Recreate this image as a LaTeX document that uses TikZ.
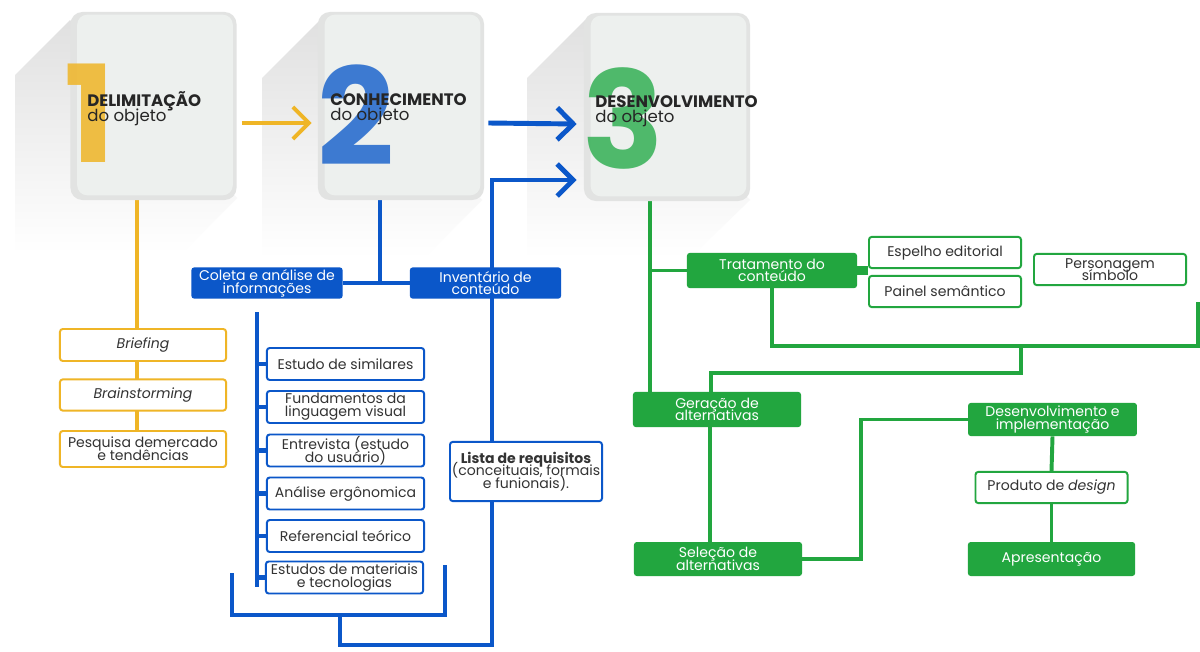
\documentclass[tikz,border=0pt]{standalone}
\usepackage{fontspec}
\setmainfont{Poppins}
\usetikzlibrary{arrows.meta,backgrounds}

\definecolor{amarelo}{HTML}{EFB526}
\definecolor{azul}{HTML}{0B57C9}
\definecolor{azuldig}{HTML}{1F66CC}
\definecolor{verde}{HTML}{22A63F}
\definecolor{verdedig}{HTML}{34B055}
\definecolor{cardedge}{HTML}{E2E3E2}
\definecolor{cardface}{HTML}{EDF0EE}
\newcommand\apertado{\lineskiplimit=-20pt\relax} % linhas juntas

\begin{document}
\begin{tikzpicture}[
        x=0.025cm, y=-0.025cm, % 1 unidade = 1 px
        font=\fontsize{10}{9}\selectfont\apertado,
        card/.style={fill=cardedge, rounded corners=0.3cm, minimum width=4.15cm, minimum height=4.7cm}, % Cartões das etapas
        face/.style={fill=cardface, rounded corners=0.25cm},
        digit/.style={anchor=base west, inner sep=0, font=\fontsize{96}{96}\selectfont\bfseries, opacity=0.85},
        head/.style={anchor=base west, inner sep=0, align=left, font=\fontsize{11.8}{10}\selectfont\apertado, text=black!85},
        ybox/.style={draw=amarelo, line width=1.4pt, fill=white, rounded corners=2pt, minimum width=4.15cm, align=center, text=black!80, inner sep=1pt},
        bbox/.style={draw=azul, line width=1.4pt, fill=white, rounded corners=2pt, minimum width=3.93cm, minimum height=0.8cm, align=center, text=black!80, inner sep=1pt},
        bfill/.style={fill=azul, text=white, rounded corners=2pt, minimum width=3.78cm, minimum height=0.78cm, align=center, inner sep=1pt},
        gbox/.style={draw=verde, line width=1.4pt, fill=white, rounded corners=2pt, minimum width=3.8cm, minimum height=0.78cm, align=center, text=black!80, inner sep=1pt},
        gfill/.style={fill=verde, text=white, rounded corners=2pt, align=center, inner sep=1pt},
        yline/.style={draw=amarelo, line width=2.8pt},
        bline/.style={draw=azul, line width=3.5pt},
        gline/.style={draw=verde, line width=2.8pt},
        seta/.style={-{Straight Barb[length=0.4cm, width=0.8cm]}}, % Setas abertas
        sombra/.style={shading angle=45, top color=black!12, bottom color=white},
    ]

    \begin{scope}[on background layer]
        \path[use as bounding box, fill=white] (0,0) rectangle (1200,651);
        % sombras longas
        \shade[sombra] (70,20) -- (15,75) -- (15,253) -- (182,253) -- (237,198) -- cycle;
        \shade[sombra] (320,20) -- (262,78) -- (262,258) -- (424,258) -- (482,200) -- cycle;
        \shade[sombra] (585,20) -- (527,78) -- (527,258) -- (690,258) -- (750,200) -- cycle;
    \end{scope}

    % etapas
    \node[card] (card1) at (153.5,106) {};
    \node[card] (card2) at (401,106) {};
    \node[card] (card3) at (667,107) {};
    \foreach \c in {card1,card2,card3}
        \fill[face] ([shift={(7,-5)}]\c.south west) rectangle ([shift={(-4,3)}]\c.north east);

    \node[digit, text=amarelo] (n1) at (64,162) {1};
    \node[digit, text=azuldig] (n2) at (317,165) {2};
    \node[digit, text=verdedig] (n3) at (582,168) {3};

    \node[head] (t1) at (87,121) {\textbf{DELIMITAÇÃO}\\do objeto};
    \node[head] (t2) at (330,120) {\textbf{CONHECIMENTO}\\do objeto};
    \node[head] (t3) at (595,122) {\textbf{DESENVOLVIMENTO}\\do objeto};

    % delimitação
    \node[ybox, minimum height=0.8cm] (brief) at (143,345) {\textit{Briefing}};
    \node[ybox, minimum height=0.78cm] (brain) at (143,395) {\textit{Brainstorming}};
    \node[ybox, minimum height=0.9cm] (pesq) at (143,449) {Pesquisa demercado\\e tendências};

    % conhecimento
    \node[bfill] (coleta) at (267,283) {Coleta e análise de\\informações};
    \node[bfill] (inv) at (485.5,283) {Inventário de\\conteúdo};
    \node[bbox] (sim) at (345.5,364) {Estudo de similares};
    \node[bbox] (fund) at (345.5,407) {Fundamentos da\\linguagem visual};
    \node[bbox] (entr) at (345.5,450.5) {Entrevista (estudo\\do usuário)};
    \node[bbox] (anal) at (345.5,493.5) {Análise ergônomica};
    \node[bbox] (ref) at (345.5,536) {Referencial teórico};
    \node[bbox] (mat) at (344.5,577.5) {Estudos de materiais\\e tecnologias};
    \node[bbox, minimum width=3.8cm, minimum height=1.48cm] (lista) at (526,471.5) {\textbf{Lista de requisitos}\\(conceituais, formais\\e funionais).};

    % desenvolvimento
    \node[gfill, minimum width=4.25cm, minimum height=0.88cm] (trat) at (772,270.5) {Tratamento do\\conteúdo};
    \node[gbox] (esp) at (945,252.5) {Espelho editorial};
    \node[gbox] (pain) at (945,291.5) {Painel semântico};
    \node[gbox] (pers) at (1110,269.5) {Personagem\\símbolo};
    \node[gfill, minimum width=4.2cm, minimum height=0.88cm] (ger) at (717,409.5) {Geração de\\alternativas};
    \node[gfill, minimum width=4.2cm, minimum height=0.85cm] (sel) at (718,559) {Seleção de\\alternativas};
    \node[gfill, minimum width=4.22cm, minimum height=0.83cm] (des) at (1052.5,419.5) {Desenvolvimento e\\implementação};
    \node[gbox] (prod) at (1051.5,487.5) {Produto de \textit{design}};
    \node[gfill, minimum width=4.18cm, minimum height=0.85cm] (apr) at (1051.5,559) {Apresentação};

    \coordinate (yl) at (137,0);
    \coordinate (bstem) at (380,0);
    \coordinate (bl) at (257,312);
    \coordinate (blend) at (257,587);
    \coordinate (brkl) at (232,573);
    \coordinate (brkr) at (445,565);
    \coordinate (brk) at (340,615);
    \coordinate (spine) at (492,645);
    \coordinate (gstem) at (650,0);
    \coordinate (gbar) at (1198,346);
    \coordinate (gtop) at (1198,302);
    \coordinate (gj) at (1021,346);

    \begin{scope}[on background layer]
        % amarelo
        \draw[yline] (card1.south -| yl) -- (pesq.north -| yl);
        \draw[yline, seta] ([shift={(5,17)}]card1.east) -- ([shift={(-6,17)}]card2.west);
        % azul
        \draw[bline, seta] ([shift={(4,17)}]card2.east) -- ([shift={(-7,17)}]card3.west);
        \draw[bline] (card2.south -| bstem) -- (bstem |- coleta.east);
        \draw[bline] (coleta.east) -- (inv.west);
        \draw[bline] (bl) -- (blend);
        \foreach \b in {sim,fund,entr,anal,ref,mat}
            \draw[bline] (bl |- \b.west) -- (\b.west);
        \draw[bline] (brkl) |- (brk) -| (brkr);
        \draw[bline, seta] (brk) |- (spine) |- ([shift={(-7,73)}]card3.west);
        % verde
        \draw[gline] (card3.south -| gstem) -- (gstem |- ger.north);
        \draw[gline] (gstem |- trat.west) -- (trat.west);
        \draw[gline, line width=6pt] (trat.east) -- (trat.east -| esp.west);
        \draw[gline] (trat.south) |- (gbar) -- (gtop);
        \draw[gline] (gj) -- ++(0,27) -| ([xshift=-0.15cm]ger.north);
        \draw[gline] ([xshift=-0.18cm]ger.south) -- ([xshift=-0.18cm]ger.south |- sel.north);
        \draw[gline] (sel.east) -- ++(59,0) |- (des.west);
        \draw[gline] (des.south) -- (prod.north);
        \draw[gline] (prod.south) -- (apr.north);
    \end{scope}
\end{tikzpicture}
\end{document}
